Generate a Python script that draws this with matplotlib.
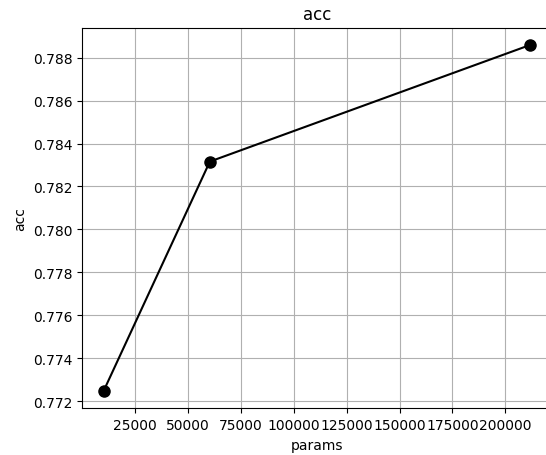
import matplotlib
matplotlib.use("Agg")
import matplotlib.pyplot as plt

params = [10350, 60490, 211570]
acc = [0.77247, 0.78316, 0.78859]

fig = plt.figure(figsize=(5.46, 4.56), dpi=100)
ax = fig.add_axes([0.1507, 0.1024, 0.859, 0.8346])
ax.plot(params, acc, color="black", marker="o", markersize=8, linewidth=1.5)
ax.set_title("acc")
ax.set_xlabel("params")
ax.set_ylabel("acc")
ax.grid(True)
fig.savefig("out.png", dpi=100)
